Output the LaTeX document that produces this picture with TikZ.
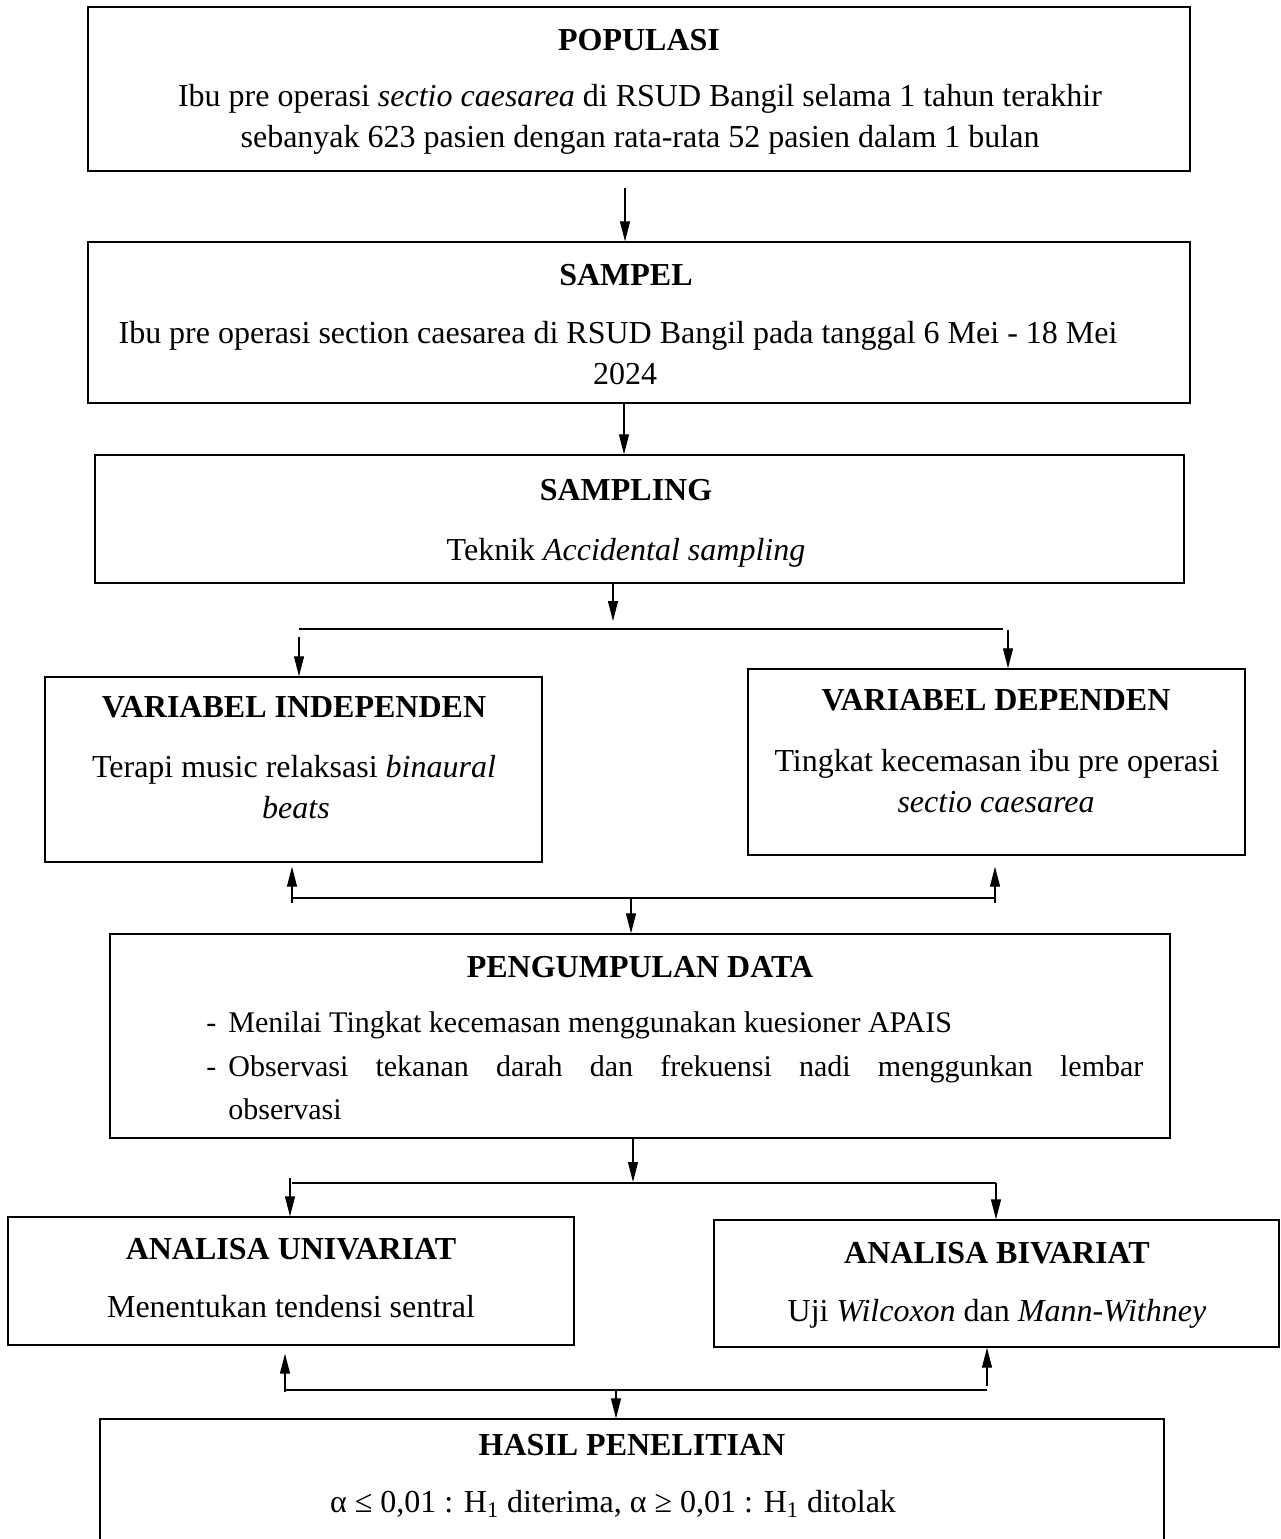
\documentclass[tikz,border=0pt]{standalone}
\usepackage{fontspec}
\setmainfont{Liberation Serif}
\usetikzlibrary{arrows.meta,calc}
\begin{document}
\begin{tikzpicture}[x=0.5pt,y=-0.5pt,
  box/.style={draw,line width=0.7pt,inner sep=0pt},
  ttl/.style={anchor=base,inner sep=0pt,font=\fontsize{16pt}{20.5pt}\selectfont\bfseries},
  txt/.style={anchor=base,inner sep=0pt,font=\fontsize{16pt}{20.5pt}\selectfont},
  lst/.style={anchor=base west,inner sep=0pt,font=\fontsize{15pt}{20.5pt}\selectfont},
  arr/.style={line width=0.6pt,-{Triangle[length=10pt,width=5pt]}},
  bar/.style={line width=0.9pt}]
\useasboundingbox (0,0) rectangle (1281,1539);
% boxes
\node[box,minimum width=551pt,minimum height=82pt] (pop) at (639,89) {};
\node[box,minimum width=551pt,minimum height=80.5pt] (sam) at (639,322.5) {};
\node[box,minimum width=544.5pt,minimum height=64pt] (smp) at (639.5,519) {};
\node[box,minimum width=248.5pt,minimum height=92.5pt] (vi) at (293.5,769.5) {};
\node[box,minimum width=248.5pt,minimum height=93pt] (vd) at (996.5,762) {};
\node[box,minimum width=530pt,minimum height=102pt] (pd) at (640,1036) {};
\node[box,minimum width=283pt,minimum height=64pt] (au) at (291,1281) {};
\node[box,minimum width=282.5pt,minimum height=63.5pt] (ab) at (996.5,1283.5) {};
\node[box,minimum width=532pt,minimum height=70pt] (hp) at (632,1489) {};
% texts
\node[ttl] (t1) at (639,50) {POPULASI};
\node[txt] (t1a) at (640,106) {Ibu pre operasi \textit{sectio caesarea} di RSUD Bangil selama 1 tahun terakhir};
\node[txt] (t1b) at (640,147) {sebanyak 623 pasien dengan rata-rata 52 pasien dalam 1 bulan};
\node[ttl] (t2) at (626,285) {SAMPEL};
\node[txt] (t2a) at (618,343) {Ibu pre operasi section caesarea di RSUD Bangil pada tanggal 6 Mei - 18 Mei};
\node[txt] (t2b) at (625,384) {2024};
\node[ttl] (t3) at (626,500) {SAMPLING};
\node[txt] (t3a) at (626,560) {Teknik \textit{Accidental sampling}};
\node[ttl] (t4) at (294,717) {VARIABEL INDEPENDEN};
\node[txt] (t4a) at (294,777) {Terapi music relaksasi \textit{binaural}};
\node[txt] (t4b) at (296,818) {\textit{beats}};
\node[ttl] (t5) at (996,710) {VARIABEL DEPENDEN};
\node[txt] (t5a) at (997,771) {Tingkat kecemasan ibu pre operasi};
\node[txt] (t5b) at (996,812) {\textit{sectio caesarea}};
\node[ttl] (t6) at (640,977) {PENGUMPULAN DATA};
\node[lst] (d1) at (206,1032) {-};
\node[lst] (l1) at (228,1032) {Menilai Tingkat kecemasan menggunakan kuesioner APAIS};
\node[lst] (d2) at (206,1076) {-};
\node[lst] (l2) at (228,1076) {\makebox[457.5pt][s]{Observasi tekanan darah dan frekuensi nadi menggunkan lembar}};
\node[lst] (l3) at (228,1119) {observasi};
\node[ttl] (t7) at (291,1259) {ANALISA UNIVARIAT};
\node[txt] (t7a) at (291,1317) {Menentukan tendensi sentral};
\node[ttl] (t8) at (997,1263) {ANALISA BIVARIAT};
\node[txt] (t8a) at (997,1321) {Uji \textit{Wilcoxon} dan \textit{Mann-Withney}};
\node[ttl] (t9) at (632,1455) {HASIL PENELITIAN};
\node[txt] (t9a) at (613,1512) {α ≤ 0,01 : H\textsubscript{1} diterima, α ≥ 0,01 : H\textsubscript{1} ditolak};
% connectors
\coordinate (a1) at (625,188);
\draw[arr] (a1) -- (a1 |- sam.north);
\coordinate (a2) at (624,0);
\draw[arr] (a2 |- sam.south) -- (a2 |- smp.north);
% branch 1
\coordinate (c1) at (613,621);
\coordinate (j1l) at (299,629);
\coordinate (j1r) at (1003,629);
\coordinate (s1l) at (299,637);
\coordinate (s1r) at (1008,630);
\draw[arr] (c1 |- smp.south) -- (c1);
\draw[bar] (j1l) -- (j1r);
\draw[arr] (s1l) -- (s1l |- vi.north);
\draw[arr] (s1r) -- (s1r |- vd.north);
% branch 2
\coordinate (u2l) at (292,903);
\coordinate (u2r) at (995,903);
\coordinate (j2l) at (292,898);
\coordinate (j2r) at (995,898);
\coordinate (c2) at (631,898);
\draw[arr] (u2l) -- ($(u2l |- vi.south)+(0,4)$);
\draw[arr] (u2r) -- ($(u2r |- vd.south)+(0,11)$);
\draw[bar] (j2l) -- (j2r);
\draw[arr] (c2) -- (c2 |- pd.north);
% branch 3
\coordinate (c3) at (633,1182);
\coordinate (j3l) at (292,1183);
\coordinate (j3r) at (996,1183);
\coordinate (s3l) at (290,1178);
\draw[arr] (c3 |- pd.south) -- (c3);
\draw[bar] (j3l) -- (j3r);
\draw[arr] (s3l) -- (s3l |- au.north);
\draw[arr] (j3r) -- (j3r |- ab.north);
% branch 4
\coordinate (u4l) at (285,1392);
\coordinate (u4r) at (987,1386);
\coordinate (j4l) at (285,1390);
\coordinate (j4r) at (987,1390);
\coordinate (c4) at (616,1390);
\draw[arr] (u4l) -- ($(u4l |- au.south)+(0,8)$);
\draw[arr] (u4r) -- (u4r |- ab.south);
\draw[bar] (j4l) -- (j4r);
\draw[arr] (c4) -- (c4 |- hp.north);
\end{tikzpicture}
\end{document}
